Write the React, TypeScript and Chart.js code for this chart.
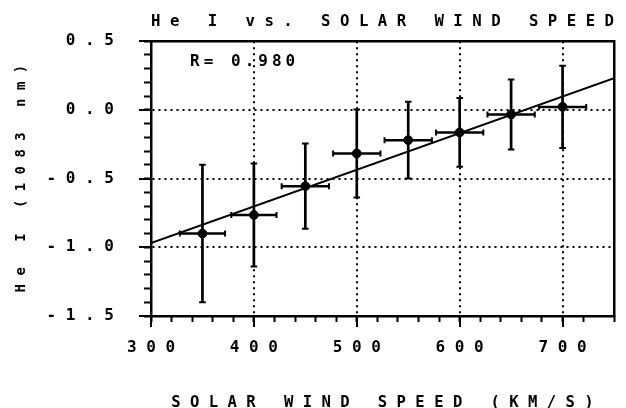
import React, { useEffect, useRef } from 'react';
import { Chart, registerables } from 'chart.js';

Chart.register(...registerables);

const FONT = '"DejaVu Sans Mono", "Liberation Mono", monospace';

// Data
const speed = [350, 400, 450, 500, 550, 600, 650, 700];
const heI = [-0.9, -0.765, -0.555, -0.317, -0.22, -0.164, -0.033, 0.022];
const heIErr = [0.5, 0.375, 0.31, 0.32, 0.28, 0.25, 0.255, 0.3];
const speedErr = [22, 22, 23, 23, 23, 23, 23, 23];

// Regression line end points
const fitX = [300, 750];
const fitY = [-0.97, 0.23];

const xTickLabels = ['300', '400', '500', '600', '700'];
const yTickLabels = ['-1.5', '-1.0', '-0.5', '0.0', '0.5'];

const titleText = 'He I vs. SOLAR WIND SPEED';
const xTitleText = 'SOLAR WIND SPEED (KM/S)';
const yTitleText = 'He I (1083 nm)';
const rLabel = 'R= 0.980';
const rLabelAt = [338, 0.35];

function spread(s: string): string {
  return s
    .split(' ')
    .map((w) => w.split('').join(' '))
    .join('   ');
}

const BLACK = '#000000';

const rLabelPlugin = {
  id: 'rLabel',
  afterDatasetsDraw(chart: any) {
    const { ctx, scales } = chart;
    const x = scales.x.getPixelForValue(rLabelAt[0]);
    const y = scales.y.getPixelForValue(rLabelAt[1]);
    ctx.save();
    ctx.font = `bold 16px ${FONT}`;
    (ctx as any).letterSpacing = '4px';
    ctx.fillStyle = BLACK;
    ctx.textAlign = 'left';
    ctx.textBaseline = 'middle';
    ctx.fillText(rLabel, x, y);
    ctx.restore();
  },
};

export default function App() {
  const ref = useRef<HTMLCanvasElement>(null);

  useEffect(() => {
    const canvas = ref.current;
    if (!canvas) return;

    const datasets: any[] = [];
    datasets.push({
      label: 'He I',
      data: speed.map((x, i) => ({ x, y: heI[i] })),
      showLine: false,
      pointRadius: 4.4,
      pointBorderWidth: 1,
      pointBackgroundColor: BLACK,
      pointBorderColor: BLACK,
    });
    datasets.push({
      label: 'fit',
      data: fitX.map((x, i) => ({ x, y: fitY[i] })),
      showLine: true,
      borderColor: BLACK,
      borderWidth: 2,
      pointRadius: 0,
    });
    speed.forEach((x, i) => {
      datasets.push({
        label: 'yerr' + i,
        data: [
          { x, y: heI[i] - heIErr[i] },
          { x, y: heI[i] + heIErr[i] },
        ],
        showLine: true,
        borderColor: BLACK,
        borderWidth: 2.7,
        pointStyle: 'line',
        pointRadius: 3.3,
        pointBorderWidth: 2,
        pointBorderColor: BLACK,
        pointRotation: 0,
      });
      datasets.push({
        label: 'xerr' + i,
        data: [
          { x: x - speedErr[i], y: heI[i] },
          { x: x + speedErr[i], y: heI[i] },
        ],
        showLine: true,
        borderColor: BLACK,
        borderWidth: 2.5,
        pointStyle: 'line',
        pointRadius: 3,
        pointBorderWidth: 2,
        pointBorderColor: BLACK,
        pointRotation: 90,
      });
    });

    const tickFont = { family: FONT, size: 16, weight: 'bold' as const };

    const chart = new Chart(canvas, {
      type: 'scatter',
      data: { datasets },
      plugins: [rLabelPlugin],
      options: {
        responsive: false,
        animation: false,
        events: [],
        layout: { padding: { left: 0, right: 12, top: 0, bottom: 0 } },
        plugins: {
          legend: { display: false },
          tooltip: { enabled: false },
          title: {
            display: true,
            text: spread(titleText),
            fullSize: false,
            align: 'center',
            color: BLACK,
            font: { family: FONT, size: 16, weight: 'bold', lineHeight: 1.2 },
            padding: { top: 12, bottom: 10 },
          },
        },
        scales: {
          x: {
            type: 'linear',
            position: 'bottom',
            weight: 1,
            min: 300,
            max: 750,
            ticks: {
              stepSize: 100,
              includeBounds: false,
              autoSkip: false,
              maxRotation: 0,
              color: BLACK,
              font: tickFont,
              padding: 11,
              callback: (_v: any, i: number) => spread(xTickLabels[i] ?? ''),
            },
            grid: {
              color: BLACK,
              lineWidth: 2,
              tickLength: 11,
              tickWidth: 2,
              tickColor: BLACK,
            },
            border: { display: true, color: BLACK, width: 2.5, dash: [2, 4] },
            title: {
              display: true,
              text: spread(xTitleText),
              color: BLACK,
              font: { family: FONT, size: 15.6, weight: 'bold', lineHeight: 0.7 },
              padding: { top: 0, bottom: 0 },
            },
            afterFit: (s: any) => {
              s.height = 92;
            },
          },
          xMinor: {
            type: 'linear',
            position: 'bottom',
            weight: 0,
            min: 300,
            max: 750,
            ticks: { display: false, stepSize: 20, autoSkip: false },
            grid: {
              drawOnChartArea: false,
              tickLength: 6,
              tickWidth: 2,
              color: BLACK,
              tickColor: BLACK,
            },
            border: { display: false },
            afterFit: (s: any) => {
              s.height = 0;
            },
          },
          y: {
            type: 'linear',
            position: 'left',
            weight: 1,
            min: -1.5,
            max: 0.5,
            ticks: {
              stepSize: 0.5,
              autoSkip: false,
              color: BLACK,
              font: tickFont,
              padding: 25,
              callback: (_v: any, i: number) => spread(yTickLabels[i] ?? ''),
            },
            grid: {
              color: BLACK,
              lineWidth: 2,
              tickLength: 12,
              tickWidth: 2,
              tickColor: BLACK,
            },
            border: { display: true, color: BLACK, width: 2.5, dash: [2, 4] },
            title: {
              display: true,
              text: spread(yTitleText),
              color: BLACK,
              font: { family: FONT, size: 14, weight: 'bold', lineHeight: 0.8 },
              padding: { top: 16, bottom: 0 },
            },
            afterFit: (s: any) => {
              s.width = 151;
            },
          },
          yMinor: {
            type: 'linear',
            position: 'left',
            weight: 0,
            min: -1.5,
            max: 0.5,
            ticks: { display: false, stepSize: 0.1, autoSkip: false },
            grid: {
              drawOnChartArea: false,
              tickLength: 7,
              tickWidth: 2,
              color: BLACK,
              tickColor: BLACK,
            },
            border: { display: false },
            afterFit: (s: any) => {
              s.width = 0;
            },
          },
          xTop: {
            type: 'linear',
            position: 'top',
            min: 300,
            max: 750,
            ticks: { display: false },
            grid: { drawOnChartArea: false, drawTicks: false },
            border: { display: true, color: BLACK, width: 2.5 },
            afterFit: (s: any) => {
              s.height = 0;
            },
          },
          yRight: {
            type: 'linear',
            position: 'right',
            min: -1.5,
            max: 0.5,
            ticks: { display: false },
            grid: { drawOnChartArea: false, drawTicks: false },
            border: { display: true, color: BLACK, width: 2.5 },
            afterFit: (s: any) => {
              s.width = 0;
            },
          },
        },
      } as any,
    });

    return () => {
      chart.destroy();
    };
  }, []);

  return (
    <div
      style={{
        position: 'fixed',
        left: 0,
        top: 0,
        width: 626,
        height: 408,
        background: '#ffffff',
      }}
    >
      <canvas
        ref={ref}
        width={626}
        height={408}
        style={{ display: 'block', width: 626, height: 408 }}
      />
    </div>
  );
}
